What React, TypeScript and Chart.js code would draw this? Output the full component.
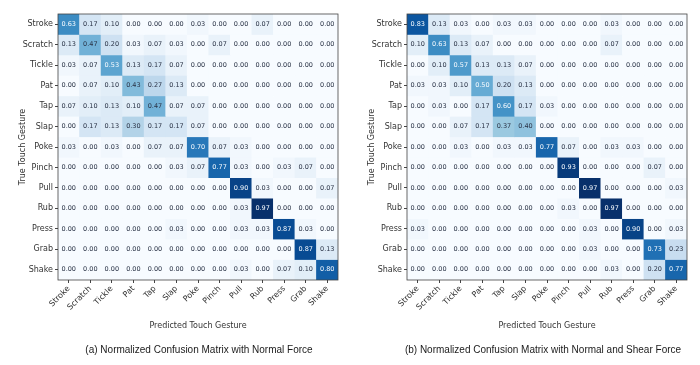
import React, { useEffect, useRef } from "react";
import { Chart, registerables } from "chart.js";
Chart.register(...registerables);

const gestures = ["Stroke", "Scratch", "Tickle", "Pat", "Tap", "Slap", "Poke", "Pinch", "Pull", "Rub", "Press", "Grab", "Shake"];

const normalForce = [
  [0.63, 0.17, 0.10, 0.00, 0.00, 0.00, 0.03, 0.00, 0.00, 0.07, 0.00, 0.00, 0.00],
  [0.13, 0.47, 0.20, 0.03, 0.07, 0.03, 0.00, 0.07, 0.00, 0.00, 0.00, 0.00, 0.00],
  [0.03, 0.07, 0.53, 0.13, 0.17, 0.07, 0.00, 0.00, 0.00, 0.00, 0.00, 0.00, 0.00],
  [0.00, 0.07, 0.10, 0.43, 0.27, 0.13, 0.00, 0.00, 0.00, 0.00, 0.00, 0.00, 0.00],
  [0.07, 0.10, 0.13, 0.10, 0.47, 0.07, 0.07, 0.00, 0.00, 0.00, 0.00, 0.00, 0.00],
  [0.00, 0.17, 0.13, 0.30, 0.17, 0.17, 0.07, 0.00, 0.00, 0.00, 0.00, 0.00, 0.00],
  [0.03, 0.00, 0.03, 0.00, 0.07, 0.07, 0.70, 0.07, 0.03, 0.00, 0.00, 0.00, 0.00],
  [0.00, 0.00, 0.00, 0.00, 0.00, 0.03, 0.07, 0.77, 0.03, 0.00, 0.03, 0.07, 0.00],
  [0.00, 0.00, 0.00, 0.00, 0.00, 0.00, 0.00, 0.00, 0.90, 0.03, 0.00, 0.00, 0.07],
  [0.00, 0.00, 0.00, 0.00, 0.00, 0.00, 0.00, 0.00, 0.03, 0.97, 0.00, 0.00, 0.00],
  [0.00, 0.00, 0.00, 0.00, 0.00, 0.03, 0.00, 0.00, 0.03, 0.03, 0.87, 0.03, 0.00],
  [0.00, 0.00, 0.00, 0.00, 0.00, 0.00, 0.00, 0.00, 0.00, 0.00, 0.00, 0.87, 0.13],
  [0.00, 0.00, 0.00, 0.00, 0.00, 0.00, 0.00, 0.00, 0.03, 0.00, 0.07, 0.10, 0.80],
];

const normalShearForce = [
  [0.83, 0.13, 0.03, 0.00, 0.03, 0.03, 0.00, 0.00, 0.00, 0.03, 0.00, 0.00, 0.00],
  [0.10, 0.63, 0.13, 0.07, 0.00, 0.00, 0.00, 0.00, 0.00, 0.07, 0.00, 0.00, 0.00],
  [0.00, 0.10, 0.57, 0.13, 0.13, 0.07, 0.00, 0.00, 0.00, 0.00, 0.00, 0.00, 0.00],
  [0.03, 0.03, 0.10, 0.50, 0.20, 0.13, 0.00, 0.00, 0.00, 0.00, 0.00, 0.00, 0.00],
  [0.00, 0.03, 0.00, 0.17, 0.60, 0.17, 0.03, 0.00, 0.00, 0.00, 0.00, 0.00, 0.00],
  [0.00, 0.00, 0.07, 0.17, 0.37, 0.40, 0.00, 0.00, 0.00, 0.00, 0.00, 0.00, 0.00],
  [0.00, 0.00, 0.03, 0.00, 0.03, 0.03, 0.77, 0.07, 0.00, 0.03, 0.03, 0.00, 0.00],
  [0.00, 0.00, 0.00, 0.00, 0.00, 0.00, 0.00, 0.93, 0.00, 0.00, 0.00, 0.07, 0.00],
  [0.00, 0.00, 0.00, 0.00, 0.00, 0.00, 0.00, 0.00, 0.97, 0.00, 0.00, 0.00, 0.03],
  [0.00, 0.00, 0.00, 0.00, 0.00, 0.00, 0.00, 0.03, 0.00, 0.97, 0.00, 0.00, 0.00],
  [0.03, 0.00, 0.00, 0.00, 0.00, 0.00, 0.00, 0.00, 0.03, 0.00, 0.90, 0.00, 0.03],
  [0.00, 0.00, 0.00, 0.00, 0.00, 0.00, 0.00, 0.00, 0.03, 0.00, 0.00, 0.73, 0.23],
  [0.00, 0.00, 0.00, 0.00, 0.00, 0.00, 0.00, 0.00, 0.00, 0.03, 0.00, 0.20, 0.77],
];

const captionA = "(a) Normalized Confusion Matrix with Normal Force";
const captionB = "(b) Normalized Confusion Matrix with Normal and Shear Force";
const xTitle = "Predicted Touch Gesture";
const yTitle = "True Touch Gesture";

const BLUES = [
  [247, 251, 255], [222, 235, 247], [198, 219, 239], [158, 202, 225],
  [107, 174, 214], [66, 146, 198], [33, 113, 181], [8, 81, 156], [8, 48, 107],
];

function blues(t: number): string {
  const c = Math.max(0, Math.min(1, t)) * (BLUES.length - 1);
  const i = Math.min(Math.floor(c), BLUES.length - 2);
  const f = c - i;
  const a = BLUES[i], b = BLUES[i + 1];
  const m = (k: number) => Math.round(a[k] + (b[k] - a[k]) * f);
  return `rgb(${m(0)},${m(1)},${m(2)})`;
}

const FONT = "DejaVu Sans";
const TEXT = "#333";

function Matrix({ values, caption, left, captionCenter }: { values: number[][]; caption: string; left: number; captionCenter: number }) {
  const ref = useRef<HTMLCanvasElement | null>(null);
  useEffect(() => {
    if (!ref.current) return;
    const flat = values.flat();
    const vmax = Math.max(...flat);
    const vmin = Math.min(...flat);
    const thresh = (vmax + vmin) / 2;

    const datasets = values.map((row, i) => ({
      label: gestures[i],
      data: row.map(() => [i - 0.5, i + 0.5]),
      backgroundColor: row.map((v) => blues((v - vmin) / (vmax - vmin))),
      borderWidth: 0,
      grouped: false,
      barPercentage: 1,
      categoryPercentage: 1,
    }));

    const cellText = {
      id: "cellText",
      afterDatasetsDraw(chart: any) {
        const ctx = chart.ctx;
        ctx.save();
        ctx.font = `6.5px "${FONT}"`;
        ctx.textAlign = "center";
        ctx.textBaseline = "middle";
        values.forEach((row, i) => {
          const meta = chart.getDatasetMeta(i);
          row.forEach((v, j) => {
            const el = meta.data[j];
            ctx.fillStyle = v > thresh ? "#f7fbff" : "#2a3346";
            ctx.fillText(v.toFixed(2), el.x, (el.y + el.base) / 2);
          });
        });
        ctx.restore();
      },
    };

    const frame = {
      id: "frame",
      afterDraw(chart: any) {
        const { left: l, right: r, top: t, bottom: b } = chart.chartArea;
        const ctx = chart.ctx;
        ctx.save();
        ctx.strokeStyle = "#444";
        ctx.lineWidth = 0.8;
        ctx.strokeRect(l, t, r - l, b - t);
        ctx.restore();
      },
    };

    const chart = new Chart(ref.current, {
      type: "bar",
      data: { labels: gestures, datasets: datasets as any },
      options: {
        animation: false,
        responsive: true,
        maintainAspectRatio: false,
        layout: { padding: { left: 0, right: 12, top: 14, bottom: 25 } },
        plugins: {
          legend: { display: false },
          tooltip: { enabled: false },
          title: { display: false },
        },
        scales: {
          x: {
            type: "category",
            offset: true,
            grid: { display: true, drawOnChartArea: false, drawTicks: true, tickLength: 3, color: "#444", offset: false },
            border: { display: false },
            ticks: {
              minRotation: 45,
              maxRotation: 45,
              autoSkip: false,
              font: { family: FONT, size: 8 },
              color: TEXT,
              padding: 1,
            },
            title: {
              display: true,
              text: xTitle,
              font: { family: FONT, size: 8 },
              color: TEXT,
              padding: { top: 0, bottom: 9 },
            },
            afterFit(s: any) {
              s.height = 60;
            },
          },
          y: {
            type: "linear",
            min: -0.5,
            max: 12.5,
            reverse: true,
            afterBuildTicks(s: any) {
              s.ticks = gestures.map((_, i) => ({ value: i }));
            },
            grid: { display: true, drawOnChartArea: false, drawTicks: true, tickLength: 3, color: "#444" },
            border: { display: false },
            ticks: {
              autoSkip: false,
              callback: (v: any) => gestures[Math.round(Number(v))],
              font: { family: FONT, size: 8 },
              color: TEXT,
              padding: 2,
            },
            title: {
              display: true,
              text: yTitle,
              font: { family: FONT, size: 8 },
              color: TEXT,
              padding: { top: 18, bottom: 0 },
            },
            afterFit(s: any) {
              s.width = 58;
            },
          },
        },
      } as any,
      plugins: [cellText, frame],
    });
    return () => chart.destroy();
  }, [values, caption]);

  return (
    <>
      <div style={{ position: "absolute", left, top: 0, width: 350, height: 365 }}>
        <canvas ref={ref} />
      </div>
      <div
        style={{
          position: "absolute",
          left: captionCenter - 200,
          width: 400,
          top: 344,
          textAlign: "center",
          fontFamily: "Liberation Sans",
          fontSize: 10,
          lineHeight: "12px",
          color: "#1a1a1a",
          whiteSpace: "nowrap",
        }}
      >
        {caption}
      </div>
    </>
  );
}

export default function App() {
  return (
    <div style={{ position: "absolute", left: 0, top: 0, width: 700, height: 365, background: "#fff" }}>
      <Matrix values={normalForce} caption={captionA} left={0} captionCenter={199} />
      <Matrix values={normalShearForce} caption={captionB} left={349} captionCenter={543} />
    </div>
  );
}
